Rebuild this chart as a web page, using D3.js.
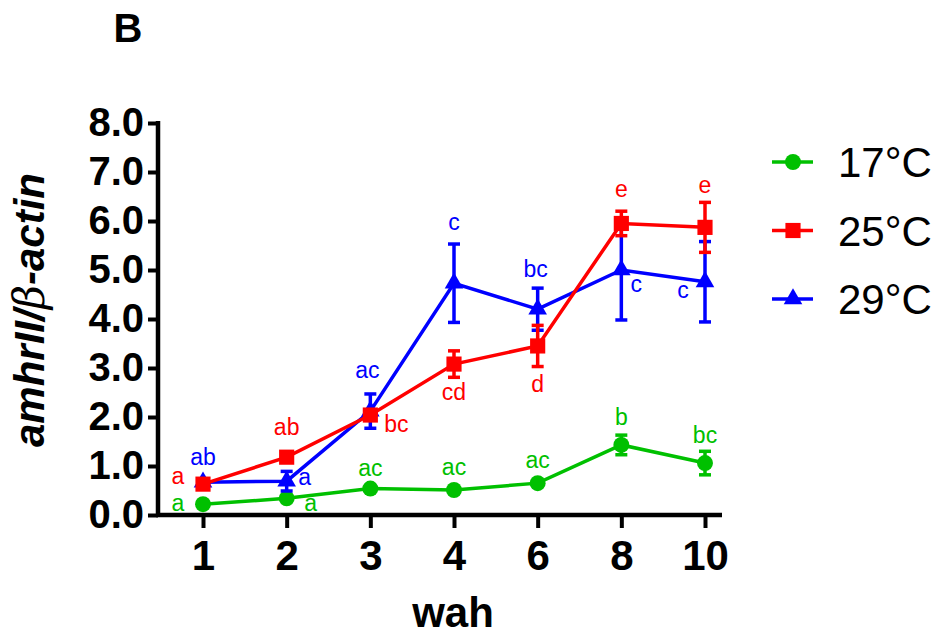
<!DOCTYPE html>
<html>
<head>
<meta charset="utf-8">
<script src="https://cdn.jsdelivr.net/npm/d3@7"></script>
<style>
  body { margin: 0; background: #fff; }
  svg { display: block; font-family: 'Liberation Sans', Arial, sans-serif; }
</style>
</head>
<body>
<div id="chart"></div>
<script>
// categories (weeks after hatching)
const weeks = ['1', '2', '3', '4', '6', '8', '10'];
const seriesNames = ['17°C', '25°C', '29°C'];

// mean values
const mean17 = [0.22, 0.34, 0.54, 0.51, 0.65, 1.43, 1.06];
const mean25 = [0.63, 1.18, 2.04, 3.08, 3.45, 5.95, 5.87];
const mean29 = [0.67, 0.69, 2.12, 4.73, 4.20, 5.00, 4.76];

// error (SEM)
const err17 = [0.04, 0.05, 0.05, 0.04, 0.05, 0.20, 0.24];
const err25 = [0.06, 0.06, 0.10, 0.27, 0.42, 0.25, 0.51];
const err29 = [0.05, 0.20, 0.35, 0.80, 0.43, 1.02, 0.82];

// significance letters
const sig17 = ['a', 'a', 'ac', 'ac', 'ac', 'b', 'bc'];
const sig25 = ['a', 'ab', 'bc', 'cd', 'd', 'e', 'e'];
const sig29 = ['ab', 'a', 'ac', 'c', 'bc', 'c', 'c'];

const yTicks = [0, 1, 2, 3, 4, 5, 6, 7, 8];

// letter placement offsets (px from the point), layout only
const off17 = [[-25, 7], [24, 13], [0, -13], [0, -15], [0, -15], [0, -20], [0, -20]];
const off25 = [[-25, 0], [0, -22], [26, 17], [0, 36], [0, 46], [0, -26], [0, -34]];
const off29 = [[0, -17], [18, 4], [-3, -33], [0, -53], [-2, -32], [15, 22], [-22, 16]];

const W = 939, H = 639;
const svg = d3.select('#chart').append('svg')
  .attr('width', W).attr('height', H);

const x = d3.scalePoint().domain(weeks).range([203, 705]);
const y = d3.scaleLinear().domain([0, 8]).range([515, 123]);
const axisLeft = 158, axisRight = 722;

// panel letter
svg.append('text')
  .attr('x', 128).attr('y', 42)
  .attr('text-anchor', 'middle')
  .style('font-weight', 'bold').style('font-size', '40px')
  .text('B');

// y axis
const gy = svg.append('g')
  .attr('transform', `translate(${axisLeft},0)`)
  .call(d3.axisLeft(y).tickValues(yTicks).tickFormat(d3.format('.1f')).tickSize(10).tickPadding(4));
gy.select('.domain').remove();
gy.selectAll('.tick line').attr('stroke', '#000').attr('stroke-width', 4);
gy.selectAll('.tick text')
  .attr('fill', '#000')
  .style('font-family', "'Liberation Sans', Arial, sans-serif")
  .style('font-weight', 'bold').style('font-size', '40px');

// x axis
const gx = svg.append('g')
  .attr('transform', `translate(0,${y(0)})`)
  .call(d3.axisBottom(x).tickSize(13).tickPadding(12));
gx.select('.domain').remove();
gx.selectAll('.tick line').attr('stroke', '#000').attr('stroke-width', 4);
gx.selectAll('.tick text')
  .attr('fill', '#000')
  .style('font-family', "'Liberation Sans', Arial, sans-serif")
  .style('font-weight', 'bold').style('font-size', '42px');

// axis lines
svg.append('line')
  .attr('x1', axisLeft).attr('x2', axisLeft)
  .attr('y1', y(8) - 2).attr('y2', y(0) + 2)
  .attr('stroke', '#000').attr('stroke-width', 4.5);
svg.append('line')
  .attr('x1', axisLeft - 2).attr('x2', axisRight)
  .attr('y1', y(0)).attr('y2', y(0))
  .attr('stroke', '#000').attr('stroke-width', 4.5);

// axis titles
svg.append('text')
  .attr('x', 453).attr('y', 627)
  .attr('text-anchor', 'middle')
  .style('font-weight', 'bold').style('font-size', '42px')
  .text('wah');

const yl = svg.append('text')
  .attr('transform', 'translate(44,310) rotate(-90)')
  .attr('text-anchor', 'middle')
  .style('font-weight', 'bold').style('font-style', 'italic').style('font-size', '42px');
yl.append('tspan').text('amhrII/');
yl.append('tspan').style('font-family', "'DejaVu Serif', serif").style('font-weight', 'normal').text('β');
yl.append('tspan').text('-actin');

// series
const series = [
  { name: seriesNames[0], color: '#00C000', mean: mean17, err: err17, sig: sig17, off: off17, shape: d3.symbolCircle, size: 200 },
  { name: seriesNames[2], color: '#0000FF', mean: mean29, err: err29, sig: sig29, off: off29, shape: d3.symbolTriangle, size: 150 },
  { name: seriesNames[1], color: '#FF0000', mean: mean25, err: err25, sig: sig25, off: off25, shape: d3.symbolSquare, size: 230 }
];

const line = d3.line().x((d, i) => x(weeks[i])).y(d => y(d));
const cap = 6;

series.forEach(s => {
  const g = svg.append('g');
  g.append('path')
    .datum(s.mean)
    .attr('d', line)
    .attr('fill', 'none')
    .attr('stroke', s.color)
    .attr('stroke-width', 3.5);

  const eb = g.selectAll('.eb').data(s.mean).enter().append('g');
  eb.append('line')
    .attr('x1', (d, i) => x(weeks[i])).attr('x2', (d, i) => x(weeks[i]))
    .attr('y1', (d, i) => y(d + s.err[i])).attr('y2', (d, i) => y(d - s.err[i]))
    .attr('stroke', s.color).attr('stroke-width', 3.5);
  [1, -1].forEach(sign => {
    eb.append('line')
      .attr('x1', (d, i) => x(weeks[i]) - cap).attr('x2', (d, i) => x(weeks[i]) + cap)
      .attr('y1', (d, i) => y(d + sign * s.err[i])).attr('y2', (d, i) => y(d + sign * s.err[i]))
      .attr('stroke', s.color).attr('stroke-width', 3.5);
  });

  g.selectAll('.pt').data(s.mean).enter().append('path')
    .attr('d', d3.symbol().type(s.shape).size(s.size))
    .attr('transform', (d, i) => `translate(${x(weeks[i])},${y(d)})`)
    .attr('fill', s.color);
});

// significance letters drawn last
series.forEach(s => {
  svg.append('g').selectAll('text').data(s.sig).enter().append('text')
    .attr('x', (d, i) => x(weeks[i]) + s.off[i][0])
    .attr('y', (d, i) => y(s.mean[i]) + s.off[i][1])
    .attr('text-anchor', 'middle')
    .attr('fill', s.color)
    .style('font-size', '23px')
    .text(d => d);
});

// legend
const legendRows = [
  { name: seriesNames[0], color: '#00C000', shape: d3.symbolCircle, size: 200 },
  { name: seriesNames[1], color: '#FF0000', shape: d3.symbolSquare, size: 230 },
  { name: seriesNames[2], color: '#0000FF', shape: d3.symbolTriangle, size: 150 }
];
const lg = svg.append('g').selectAll('g').data(legendRows).enter().append('g')
  .attr('transform', (d, i) => `translate(0,${162 + i * 68.5})`);
lg.append('line')
  .attr('x1', 772).attr('x2', 813).attr('y1', 0).attr('y2', 0)
  .attr('stroke', d => d.color).attr('stroke-width', 3.5);
lg.append('path')
  .attr('d', d => d3.symbol().type(d.shape).size(d.size)())
  .attr('transform', 'translate(793,0)')
  .attr('fill', d => d.color);
lg.append('text')
  .attr('x', 838).attr('y', 15)
  .style('font-size', '42px')
  .text(d => d.name);
</script>
</body>
</html>
